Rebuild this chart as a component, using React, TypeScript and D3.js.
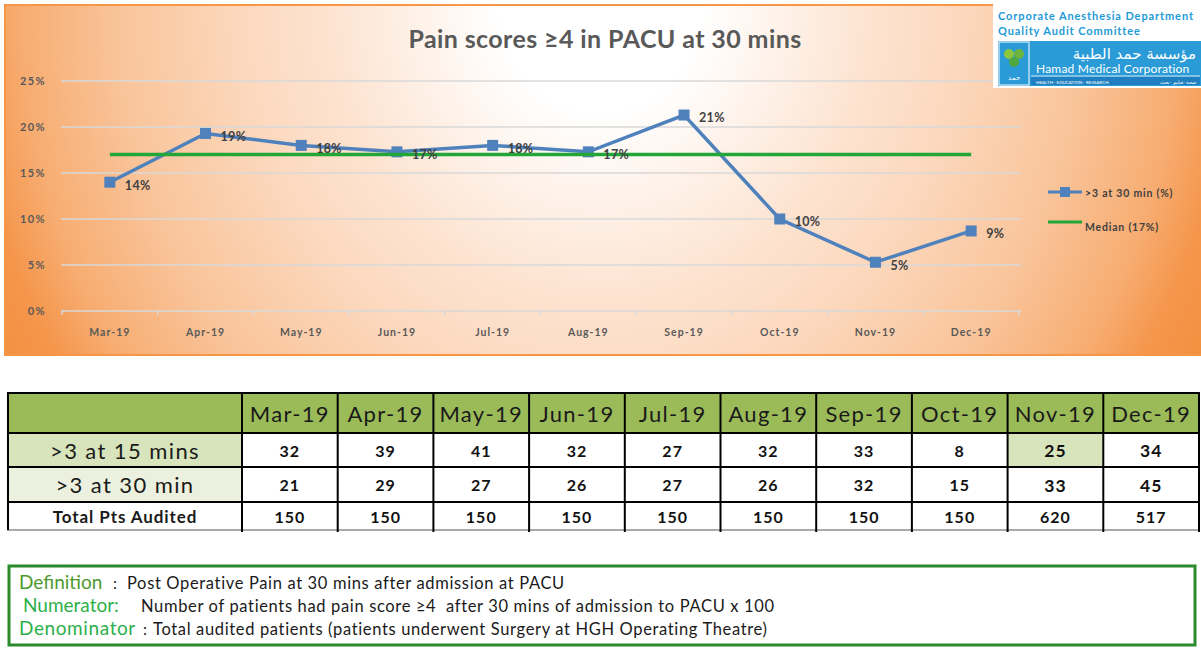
import React from "react";
import * as d3 from "d3";

const months = ["Mar-19", "Apr-19", "May-19", "Jun-19", "Jul-19", "Aug-19", "Sep-19", "Oct-19", "Nov-19", "Dec-19"];
const pct30 = [14.0, 19.3, 18.0, 17.3, 18.0, 17.3, 21.3, 10.0, 5.3, 8.7];
const medianValue = 17;
const yTicks = [0, 5, 10, 15, 20, 25];
const at15 = [32, 39, 41, 32, 27, 32, 33, 8, 25, 34];
const at30 = [21, 29, 27, 26, 27, 26, 32, 15, 33, 45];
const audited = [150, 150, 150, 150, 150, 150, 150, 150, 620, 517];
const rowLabels = [">3 at 15 mins", ">3 at 30 min", "Total Pts Audited"];
const seriesName = ">3 at 30 min (%)";
const medianName = "Median (17%)";
const title = "Pain scores \u22654 in PACU at 30 mins";
const defLines = [
  { label: "Definition", sep: ":", text: "Post Operative Pain at 30 mins after admission at PACU" },
  { label: "Numerator:", sep: "", text: "Number of patients had pain score \u22654  after 30 mins of admission to PACU x 100" },
  { label: "Denominator", sep: ":", text: "Total audited patients (patients underwent Surgery at HGH Operating Theatre)" },
];

const FONT = "Lato, 'Open Sans', sans-serif";

export default function App() {
  const x = d3.scaleBand<string>().domain(months).range([62, 1019]);
  const y = d3.scaleLinear().domain([0, 25]).range([311, 81]);
  const cx = (m: string) => (x(m) as number) + x.bandwidth() / 2;
  const line = d3
    .line<number>()
    .x((_, i) => cx(months[i]))
    .y((d) => y(d));
  const fmt = (v: number) => d3.format(".0f")(v) + "%";

  // table
  const tx = d3.scaleBand<string>().domain(months).range([242, 1199]);
  const rowTops = [393, 433, 467, 502, 530];
  const tableRows = [at15, at30, audited];
  const labelBg = ["#d8e4bc", "#ebf1de", "#ffffff"];

  const defLayout = [
    { lx: 19, sx: 113, tx: 127, y: 589 },
    { lx: 23, sx: 0, tx: 141, y: 612 },
    { lx: 19, sx: 143, tx: 153, y: 635 },
  ];

  return (
    <svg
      width={1201}
      height={648}
      style={{ position: "absolute", left: 0, top: 0, fontFamily: FONT }}
    >
      <defs>
        <radialGradient
          id="bg"
          gradientUnits="userSpaceOnUse"
          cx={600}
          cy={0}
          r={680}
          gradientTransform="translate(600,0) scale(1,1.1) translate(-600,0)"
        >
          <stop offset="0" stopColor="#ffffff" />
          <stop offset="0.15" stopColor="#ffffff" />
          <stop offset="0.4" stopColor="#fde3d0" />
          <stop offset="0.52" stopColor="#fcd9bf" />
          <stop offset="0.71" stopColor="#f9c49a" />
          <stop offset="0.85" stopColor="#f7ad72" />
          <stop offset="0.93" stopColor="#f5964c" />
          <stop offset="1" stopColor="#f39040" />
        </radialGradient>
      </defs>
      <rect x={0} y={0} width={1201} height={648} fill="#ffffff" />
      {/* chart panel */}
      <rect x={5} y={5} width={1200} height={350} fill="url(#bg)" stroke="#f79646" strokeWidth={2} />

      {/* title */}
      <text x={605} y={48} textAnchor="middle" fontSize={25} fontWeight={700} fill="#595959" letterSpacing={0.4}>
        {title}
      </text>

      {/* gridlines */}
      {yTicks.map((t) => (
        <g key={t}>
          <line x1={61} x2={1021} y1={y(t)} y2={y(t)} stroke="#d9d9d9" strokeWidth={1.5} />
          <text x={46} y={y(t)} dy="0.35em" textAnchor="end" fontSize={11} fontWeight={700} fill="#595959" letterSpacing={1.4}>
            {t + "%"}
          </text>
        </g>
      ))}
      {/* x ticks */}
      {months.map((m) => (
        <line key={"t" + m} x1={x(m) as number} x2={x(m) as number} y1={y(0)} y2={y(0) + 4} stroke="#d9d9d9" strokeWidth={1.5} />
      ))}
      <line x1={1019} x2={1019} y1={y(0)} y2={y(0) + 4} stroke="#d9d9d9" strokeWidth={1.5} />
      {months.map((m) => (
        <text key={m} x={cx(m)} y={332} dy="0.35em" textAnchor="middle" fontSize={10.5} fontWeight={700} fill="#595959" letterSpacing={1}>
          {m}
        </text>
      ))}

      {/* series line */}
      <path d={line(pct30) || ""} fill="none" stroke="#4f81bd" strokeWidth={3.5} />
      {pct30.map((v, i) => (
        <rect key={"m" + i} x={cx(months[i]) - 5.5} y={y(v) - 5.5} width={11} height={11} fill="#4f81bd" />
      ))}
      {/* median line */}
      <line x1={cx(months[0])} x2={cx(months[months.length - 1])} y1={y(medianValue)} y2={y(medianValue)} stroke="#21a637" strokeWidth={3.5} />
      {/* data labels */}
      {pct30.map((v, i) => (
        <text key={"l" + i} x={cx(months[i]) + 15} y={y(v) + 3} dy="0.35em" fontSize={12.5} fontWeight={700} fill="#404040" letterSpacing={0.3}>
          {fmt(v)}
        </text>
      ))}

      {/* legend */}
      <line x1={1048} x2={1082} y1={192} y2={192} stroke="#4f81bd" strokeWidth={3} />
      <rect x={1060} y={187} width={10} height={10} fill="#4f81bd" />
      <text x={1085} y={197} fontSize={10.5} fill="#404040" fontWeight={700} letterSpacing={0.8}>
        {seriesName}
      </text>
      <line x1={1048} x2={1082} y1={222} y2={222} stroke="#21a637" strokeWidth={3} />
      <text x={1085} y={231} fontSize={10.5} fill="#404040" fontWeight={700} letterSpacing={0.8}>
        {medianName}
      </text>

      {/* logo block */}
      <rect x={993} y={0} width={208} height={88} fill="#ffffff" />
      <text x={998} y={20} fontSize={11} fontWeight={700} fill="#1e9ad6" letterSpacing={0.9}>
        Corporate Anesthesia Department
      </text>
      <text x={998} y={35} fontSize={11} fontWeight={700} fill="#1e9ad6" letterSpacing={0.9}>
        Quality Audit Committee
      </text>
      <rect x={998} y={41} width={203} height={45} fill="#2a9bd7" />
      <rect x={999} y={42} width={30} height={43} fill="#2a9bd7" stroke="#ffffff" strokeWidth={1} />
      <circle cx={1009} cy={54} r={5} fill="#8cc63f" />
      <circle cx={1019} cy={54} r={5} fill="#6db33f" />
      <circle cx={1014} cy={62} r={5} fill="#4fa83d" />
      <text x={1014} y={80} textAnchor="middle" fontSize={7} fill="#ffffff">
        حمد
      </text>
      <text x={1196} y={59} textAnchor="end" fontSize={15} fill="#ffffff" fontFamily="'DejaVu Sans', sans-serif">
        مؤسسة حمد الطبية
      </text>
      <text x={1036} y={73} fontSize={12} fill="#ffffff" letterSpacing={0.2}>
        Hamad Medical Corporation
      </text>
      <line x1={1031} x2={1200} y1={76} y2={76} stroke="#ffffff" strokeWidth={0.8} />
      <rect x={1031} y={77} width={169} height={8} fill="#1f7fc0" />
      <text x={1036} y={83.5} fontSize={4.5} fill="#ffffff">
        HEALTH · EDUCATION · RESEARCH
      </text>
      <text x={1196} y={83.5} fontSize={4.5} fill="#ffffff" textAnchor="end">
        صحة · تعليم · بحث
      </text>

      {/* table */}
      <rect x={8} y={rowTops[0]} width={1191} height={rowTops[1] - rowTops[0]} fill="#9bbb59" />
      {labelBg.map((c, i) => (
        <rect key={"lb" + i} x={8} y={rowTops[i + 1]} width={234} height={rowTops[i + 2] - rowTops[i + 1]} fill={c} />
      ))}
      <rect x={tx("Nov-19") as number} y={rowTops[1]} width={tx.bandwidth()} height={rowTops[2] - rowTops[1]} fill="#d8e4bc" />
      {months.map((m) => (
        <text key={"h" + m} x={(tx(m) as number) + tx.bandwidth() / 2} y={(rowTops[0] + rowTops[1]) / 2 + 1} dy="0.35em" textAnchor="middle" fontSize={22} fill="#1a1a1a" letterSpacing={1.3}>
          {m}
        </text>
      ))}
      {rowLabels.map((l, i) => (
        <text
          key={"rl" + i}
          x={125}
          y={(rowTops[i + 1] + rowTops[i + 2]) / 2 + 1}
          dy="0.35em"
          textAnchor="middle"
          fontSize={i < 2 ? 22 : 17}
          fontWeight={i < 2 ? 400 : 700}
          fill="#1a1a1a"
          letterSpacing={i < 2 ? 1.4 : 0.9}
        >
          {l}
        </text>
      ))}
      {tableRows.map((row, r) =>
        row.map((v, i) => (
          <text
            key={"c" + r + "-" + i}
            x={(tx(months[i]) as number) + tx.bandwidth() / 2}
            y={(rowTops[r + 1] + rowTops[r + 2]) / 2 + 1}
            dy="0.35em"
            textAnchor="middle"
            fontSize={i >= 8 && r < 2 ? 17.5 : 16}
            fontWeight={700}
            fill="#111111"
            letterSpacing={1}
          >
            {v}
          </text>
        ))
      )}
      {/* table grid */}
      {rowTops.slice(0, 4).map((t, i) => (
        <line key={"hl" + i} x1={7} x2={1200} y1={t} y2={t} stroke="#000000" strokeWidth={2} />
      ))}
      <line x1={7} x2={1200} y1={rowTops[4]} y2={rowTops[4]} stroke="#555555" strokeWidth={1} />
      <line x1={8} x2={8} y1={rowTops[0]} y2={rowTops[4]} stroke="#000" strokeWidth={2} />
      <line x1={242} x2={242} y1={rowTops[0]} y2={rowTops[4] + 2} stroke="#000" strokeWidth={2} />
      {months.map((m) => {
        const xr = (tx(m) as number) + tx.bandwidth();
        return <line key={"vl" + m} x1={xr} x2={xr} y1={rowTops[0]} y2={rowTops[4] + 2} stroke="#000" strokeWidth={2} />;
      })}

      {/* definition box */}
      <rect x={9} y={566} width={1186} height={79} fill="#ffffff" stroke="#2b8a2b" strokeWidth={3} />
      {defLines.map((d, i) => (
        <g key={"d" + i}>
          <text x={defLayout[i].lx} y={defLayout[i].y} fontSize={19} fill={i === 0 ? "#4e9a2e" : "#2db04a"} letterSpacing={i === 2 ? 0.6 : 0}>
            {d.label}
          </text>
          {d.sep && (
            <text x={defLayout[i].sx} y={defLayout[i].y} fontSize={16} fill="#1a1a1a">
              {d.sep}
            </text>
          )}
          <text x={defLayout[i].tx} y={defLayout[i].y} fontSize={16.5} fill="#1a1a1a" letterSpacing={0.65} style={{ whiteSpace: "pre" }}>
            {d.text}
          </text>
        </g>
      ))}
    </svg>
  );
}
